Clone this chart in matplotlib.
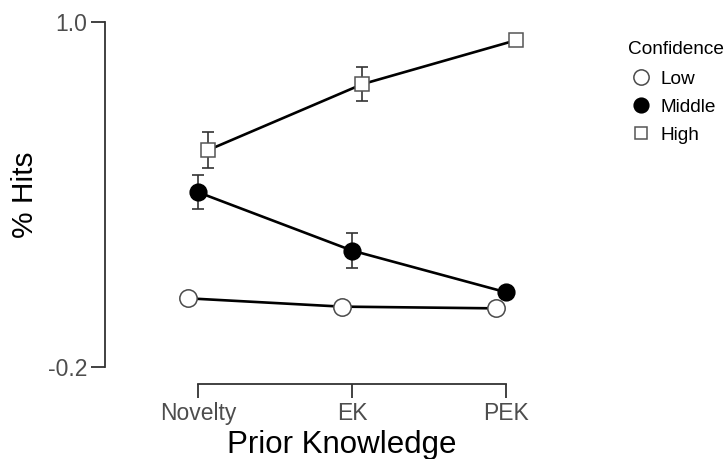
import matplotlib
matplotlib.use("Agg")
import matplotlib.pyplot as plt
from matplotlib.lines import Line2D
import numpy as np

plt.rcParams['font.family'] = ['Liberation Sans', 'DejaVu Sans']

categories = ["Novelty", "EK", "PEK"]
series_names = ["Low", "Middle", "High"]
low_vals = [0.039, 0.010, 0.004]
low_err = [0.0, 0.0, 0.0]
mid_vals = [0.408, 0.205, 0.060]
mid_err = [0.060, 0.062, 0.0]
high_vals = [0.555, 0.784, 0.937]
high_err = [0.064, 0.060, 0.0]
y_ticks = [-0.2, 1.0]
y_ticklabels = ["-0.2", "1.0"]

W, H = 727, 459
fig = plt.figure(figsize=(W / 100, H / 100), dpi=100)
ax = fig.add_axes([105 / W, (H - 367) / H, 425 / W, 345 / H])

x = np.arange(1, len(categories) + 1)
dodge = {"Low": -0.068, "Middle": 0.0, "High": 0.068}
styles = {
    "Low": dict(marker="o", mfc="white", mec="#4a4a4a", ms=12.5, mew=1.1),
    "Middle": dict(marker="o", mfc="black", mec="black", ms=12, mew=1.1),
    "High": dict(marker="s", mfc="white", mec="#555555", ms=10.5, mew=1.1),
}
marker_z = {"Low": 4.5, "Middle": 4.2, "High": 4.3}
data = {"Low": (low_vals, low_err), "Middle": (mid_vals, mid_err), "High": (high_vals, high_err)}

for i, name in enumerate(series_names):
    vals, errs = data[name]
    xs = x + dodge[name]
    ax.plot(xs, vals, color="black", lw=1.9, zorder=2 + i * 0.1)
    e = np.array(errs)
    mask = e > 0
    if mask.any():
        ax.errorbar(xs[mask], np.array(vals)[mask], yerr=e[mask], fmt="none",
                    ecolor="#333333", elinewidth=1.2, capsize=4, capthick=1.2,
                    zorder=3 + i * 0.1)
    ax.plot(xs, vals, linestyle="none", zorder=marker_z[name], **styles[name])

ax.set_xlim(0.396, 0.396 + 425 / 154)
ax.set_ylim(-0.2, 1.0)

for s in ["top", "right"]:
    ax.spines[s].set_visible(False)
for s in ["left", "bottom"]:
    ax.spines[s].set_color("#333333")
    ax.spines[s].set_linewidth(1.3)
ax.spines["left"].set_bounds(-0.2, 1.0)
ax.spines["bottom"].set_bounds(1, 3)
ax.spines["bottom"].set_position(("outward", 12.5))

ax.set_yticks(y_ticks)
ax.set_yticklabels(y_ticklabels)
ax.set_xticks(x)
ax.set_xticklabels(categories)
ax.tick_params(axis="both", length=10, width=1.3, color="#333333",
               labelcolor="#4d4d4d", labelsize=16.5, pad=3)

fig.text(25 / W, 1 - 195 / H, "% Hits", rotation=90, ha="center", va="center",
         fontsize=21.5, color="black")
fig.text(342 / W, 1 - 445 / H, "Prior Knowledge", ha="center", va="center",
         fontsize=22.5, color="black")

handles = [Line2D([], [], linestyle="none", **styles[n]) for n in series_names]
leg = fig.legend(handles, series_names, title="Confidence", loc="upper left",
                 bbox_to_anchor=(628 / W, 1 - 41 / H), frameon=False,
                 fontsize=13.7, title_fontsize=13.7, handlelength=1.37,
                 handletextpad=0.32, labelspacing=0.56, borderpad=0,
                 borderaxespad=0, markerscale=0.88, alignment="left")
leg._legend_box.sep = 9

fig.savefig("out.png", dpi=100)
